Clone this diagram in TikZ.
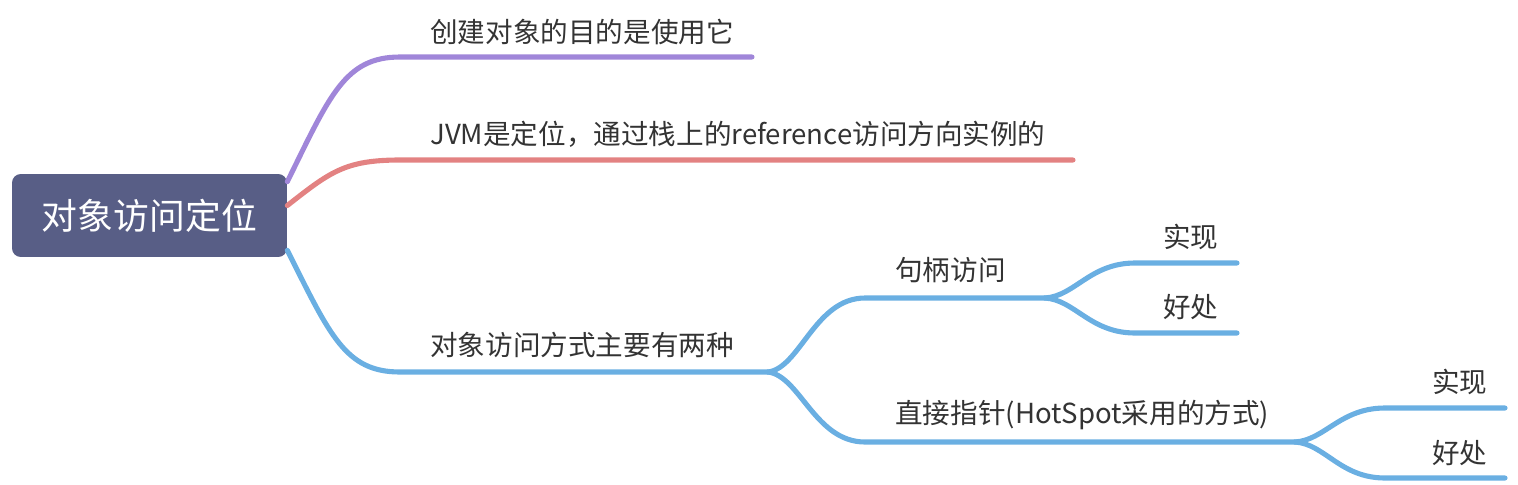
\documentclass[tikz,border=0pt]{standalone}
\usepackage{fontspec}
\setmainfont{Noto Sans CJK SC}
\usepackage{xcolor}
\usetikzlibrary{positioning,calc}
\definecolor{mroot}{HTML}{585E86}
\definecolor{mpurple}{HTML}{A086D9}
\definecolor{mred}{HTML}{E38282}
\definecolor{mblue}{HTML}{6AAFE2}
\definecolor{mtext}{HTML}{333333}

\begin{document}
\begin{tikzpicture}[x=0.02cm, y=-0.02cm, line cap=round,
  root/.style={fill=mroot, text=white, rounded corners=5pt, minimum width=5.5cm,
               minimum height=1.66cm, inner sep=0pt, font=\fontsize{20.4}{24}\selectfont},
  topic/.style={anchor=west, text=mtext, inner sep=0pt, font=\fontsize{15.7}{19}\selectfont},
  pline/.style={draw=mpurple, line width=2.9pt},
  rline/.style={draw=mred, line width=2.9pt},
  bline/.style={draw=mblue, line width=2.9pt}]
  \useasboundingbox (0,0) rectangle (1518,484);
  \node[root] (root) at (149.5,215.5) {对象访问定位};
  % main branches
  \node[topic] (goal) at (430,32) {创建对象的目的是使用它};
  \node[topic] (jvm) at (430,134) {JVM是定位，通过栈上的reference访问方向实例的};
  \node[topic] (ways) at (430,345) {对象访问方式主要有两种};
  \coordinate (goals) at (400,57);  \coordinate (goale) at (752,57);
  \coordinate (jvms) at (400,160);  \coordinate (jvme) at (1073,160);
  \coordinate (wayss) at (400,372); \coordinate (wayse) at (768,372);
  \draw[pline] ($(root.north east)+(0,8)$) .. controls (330,95) and (345,57) .. (goals) -- (goale);
  \draw[rline] ($(root.east)+(0,-10)$) .. controls (330,172) and (345,160) .. (jvms) -- (jvme);
  \draw[bline] ($(root.south east)+(0,-7)$) .. controls (330,335) and (345,372) .. (wayss) -- (wayse);
  % two ways
  \node[topic] (handle) at (895,270) {句柄访问};
  \node[topic] (direct) at (895,415) {直接指针(HotSpot采用的方式)};
  \coordinate (handles) at (865,298);  \coordinate (handlee) at (1045,298);
  \coordinate (directs) at (865,442);  \coordinate (directe) at (1295,442);
  \draw[bline] (wayse) .. controls (800,368) and (815,298) .. (handles) -- (handlee);
  \draw[bline] (wayse) .. controls (800,376) and (815,442) .. (directs) -- (directe);
  % leaves
  \node[topic] (himpl) at (1163,237) {实现};
  \node[topic] (hgood) at (1163,307) {好处};
  \node[topic] (dimpl) at (1432,382) {实现};
  \node[topic] (dgood) at (1432,453) {好处};
  \coordinate (himpls) at (1135,263); \coordinate (himple) at (1237,263);
  \coordinate (hgoods) at (1135,333); \coordinate (hgoode) at (1237,333);
  \coordinate (dimpls) at (1385,408); \coordinate (dimple) at (1505,408);
  \coordinate (dgoods) at (1385,478); \coordinate (dgoode) at (1505,478);
  \draw[bline] (handlee) .. controls (1075,296) and (1090,263) .. (himpls) -- (himple);
  \draw[bline] (handlee) .. controls (1075,300) and (1090,333) .. (hgoods) -- (hgoode);
  \draw[bline] (directe) .. controls (1325,440) and (1340,408) .. (dimpls) -- (dimple);
  \draw[bline] (directe) .. controls (1325,444) and (1340,478) .. (dgoods) -- (dgoode);
\end{tikzpicture}
\end{document}
